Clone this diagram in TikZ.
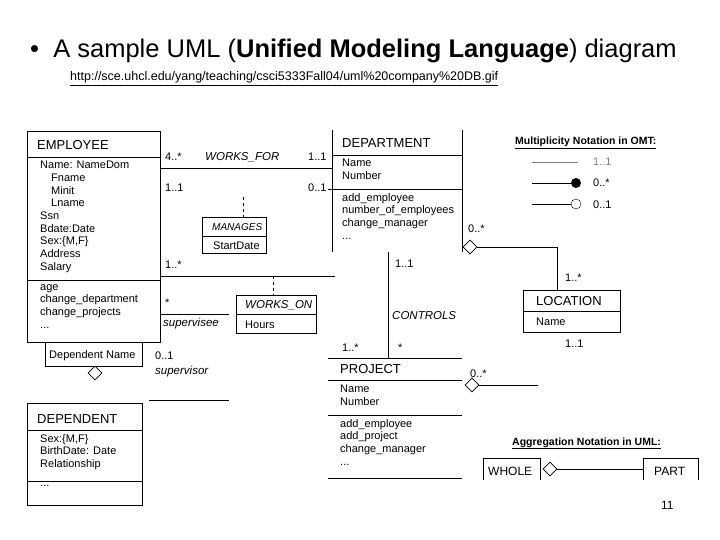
\documentclass[tikz,border=0pt]{standalone}
\usepackage{fontspec}
\setmainfont{Liberation Sans}
\usetikzlibrary{positioning,shapes.geometric}

\tikzset{
  lbl/.style={inner sep=0pt, anchor=base west, font=\fontsize{11}{12.6}\selectfont},
  attr/.style={inner sep=0pt, anchor=north west, align=left, font=\fontsize{11}{12.7}\selectfont},
  head/.style={inner sep=0pt, anchor=base west, font=\fontsize{13}{14}\selectfont},
  rel/.style={inner sep=0pt, anchor=base west, font=\fontsize{11.5}{12}\selectfont\itshape},
  box/.style={draw, line width=0.8pt},
  link/.style={line width=0.8pt},
  agg/.style={draw, diamond, aspect=1, minimum size=14pt, inner sep=0pt, line width=0.8pt, fill=white},
  legend/.style={inner sep=0pt, anchor=base west, font=\fontsize{10.5}{12}\selectfont\bfseries},
}

\begin{document}
\begin{tikzpicture}[x=1pt, y=-1pt]
  \useasboundingbox (0,0) rectangle (720,540);

  % title
  \node[inner sep=0pt, anchor=base west, font=\fontsize{25.5}{30}\selectfont] (title) at (30,58)
    {\textbullet\ \ A sample UML (\textbf{Unified Modeling Language}) diagram};
  \node[inner sep=0pt, anchor=base west, font=\fontsize{12.5}{14}\selectfont] (url) at (70,81)
    {\underline{http://sce.uhcl.edu/yang/teaching/csci5333Fall04/uml\%20company\%20DB.gif}};

  % EMPLOYEE
  \draw[box] (27,131) rectangle (160,342);
  \draw[box] (27,157) -- (160,157) (27,280) -- (160,280);
  \node[head] (emp) at (37,150) {EMPLOYEE};
  \node[attr] (empattr) at (40,161) {Name: NameDom\\\quad Fname\\\quad Minit\\\quad Lname\\Ssn\\Bdate:Date\\Sex:\{M,F\}\\Address\\Salary};
  \node[attr] (empops) at (40,284) {age\\change\_department\\change\_projects\\...};

  % Dependent Name qualifier
  \draw[box] (45,342) rectangle (142,366);
  \node[lbl] (depname) at (49,358) {Dependent Name};
  \node[agg] (depagg) at (95,373) {};

  % DEPENDENT
  \draw[box] (27,403) rectangle (142,505);
  \draw[box] (27,430) -- (142,430) (27,481) -- (142,481);
  \node[head] (dep) at (37,423) {DEPENDENT};
  \node[attr] (depattr) at (40,434) {Sex:\{M,F\}\\BirthDate: Date\\Relationship};
  \node[attr] (depops) at (40,485) {...};

  % DEPARTMENT
  \draw[box] (332,252) -- (332,130) (462,130) -- (462,252);
  \draw[box] (332,155) -- (462,155) (332,189) -- (462,189);
  \node[head] (dept) at (342,148) {DEPARTMENT};
  \node[attr] (deptattr) at (342,159) {Name\\Number};
  \node[attr] (deptops) at (342,193) {add\_employee\\number\_of\_employees\\change\_manager\\...};

  % WORKS_FOR
  \coordinate (wf1) at (160,168);
  \coordinate (wf2) at (332,168);
  \draw[link] (wf1) -- (wf2);
  \node[lbl] (wfa) at (165,161) {4..*};
  \node[rel] (wf) at (205,161) {WORKS\_FOR};
  \node[lbl] (wfb) at (308,161) {1..1};

  % MANAGES
  \coordinate (mg1) at (328,189);
  \draw[link] (mg1) -- (332,189);
  \node[lbl] (mga) at (165,192) {1..1};
  \node[lbl] (mgb) at (308,192) {0..1};
  \draw[box] (202,217) rectangle (266,253);
  \draw[box] (202,236) -- (266,236);
  \node[rel, font=\fontsize{10}{12}\selectfont\itshape] (mg) at (212,230) {MANAGES};
  \node[lbl] (mgdate) at (213,249) {StartDate};
  \coordinate (mgtop) at (243,217);
  \draw[link, dashed] (243,197) -- (mgtop);

  % WORKS_ON
  \coordinate (wo1) at (160,276);
  \coordinate (wo2) at (335,276);
  \draw[link] (wo1) -- (wo2);
  \node[lbl] (woa) at (165,268) {1..*};
  \draw[box] (236,295) rectangle (316,333);
  \draw[box] (236,314) -- (316,314);
  \node[rel] (wo) at (245,308) {WORKS\_ON};
  \node[lbl] (wohours) at (245,328) {Hours};
  \coordinate (wotop) at (273,295);
  \draw[link, dashed] (273,276) -- (wotop);

  % SUPERVISION
  \coordinate (sv1) at (160,314);
  \draw[link] (sv1) -- (229,314);
  \node[lbl] (sva) at (165,306) {*};
  \node[rel] (sve) at (163,326) {supervisee};
  \node[lbl] (svb) at (155,359) {0..1};
  \node[rel] (svr) at (155,374) {supervisor};
  \coordinate (sv2) at (149,400);
  \draw[link] (sv2) -- (229,400);

  % CONTROLS
  \coordinate (ct1) at (388,252);
  \coordinate (ct2) at (388,358);
  \draw[link] (ct1) -- (ct2);
  \node[lbl] (cta) at (395,267) {1..1};
  \node[rel] (ct) at (392,319) {CONTROLS};
  \node[lbl] (ctb) at (398,351) {*};
  \node[lbl] (ctc) at (342,351) {1..*};

  % PROJECT
  \draw[box] (328,358) -- (462,358) (328,380) -- (462,380) (328,415) -- (462,415) (328,478) -- (462,478);
  \node[head] (proj) at (340,373) {PROJECT};
  \node[attr] (projattr) at (340,385) {Name\\Number};
  \node[attr] (projops) at (340,419) {add\_employee\\add\_project\\change\_manager\\...};
  \node[agg] (projagg) at (472,385) {};
  \coordinate (pj1) at (538,385);
  \draw[link] (projagg.east) -- (pj1);
  \node[lbl] (pja) at (470,377) {0..*};

  % LOCATION
  \node[agg] (deptagg) at (470,247) {};
  \draw[box] (523,290) rectangle (620,332);
  \draw[box] (523,311) -- (620,311);
  \node[head] (loc) at (536,305) {LOCATION};
  \node[lbl] (locname) at (536,325) {Name};
  \coordinate (lc) at (557,290);
  \draw[link] (deptagg.east) -| (lc);
  \node[lbl] (lca) at (468,233) {0..*};
  \node[lbl] (lcb) at (565,281) {1..*};
  \node[lbl] (lcc) at (565,347) {1..1};

  % multiplicity legend
  \node[legend] (mlt) at (515,145) {\underline{Multiplicity Notation in OMT:}};
  \coordinate (m1a) at (532,162); \coordinate (m1b) at (578,162);
  \draw[line width=0.6pt, gray] (m1a) -- (m1b);
  \node[lbl, gray] (m1) at (593,166) {1..1};
  \node[circle, fill, inner sep=0pt, minimum size=10pt] (m2c) at (576,183) {};
  \coordinate (m2a) at (532,183);
  \draw[link] (m2a) -- (m2c);
  \node[lbl] (m2) at (593,187) {0..*};
  \node[circle, draw, fill=white, inner sep=0pt, minimum size=10pt] (m3c) at (576,204) {};
  \coordinate (m3a) at (532,204);
  \draw[link] (m3a) -- (m3c);
  \node[lbl] (m3) at (593,208) {0..1};

  % aggregation legend
  \node[legend] (agt) at (512,445) {\underline{Aggregation Notation in UML:}};
  \draw[box] (483,480) |- (540,458) -- (540,480);
  \node[lbl, font=\fontsize{12}{13}\selectfont] (whole) at (488,475) {WHOLE};
  \node[agg] (wagg) at (550,469) {};
  \draw[box] (643,480) |- (698,458) -- (698,480);
  \node[lbl, font=\fontsize{12}{13}\selectfont] (part) at (654,475) {PART};
  \coordinate (pt) at (643,469);
  \draw[link] (wagg.east) -- (pt);

  % page number
  \node[inner sep=0pt, anchor=base west, font=\fontsize{12}{14}\selectfont] (page) at (661,509) {11};
\end{tikzpicture}
\end{document}
